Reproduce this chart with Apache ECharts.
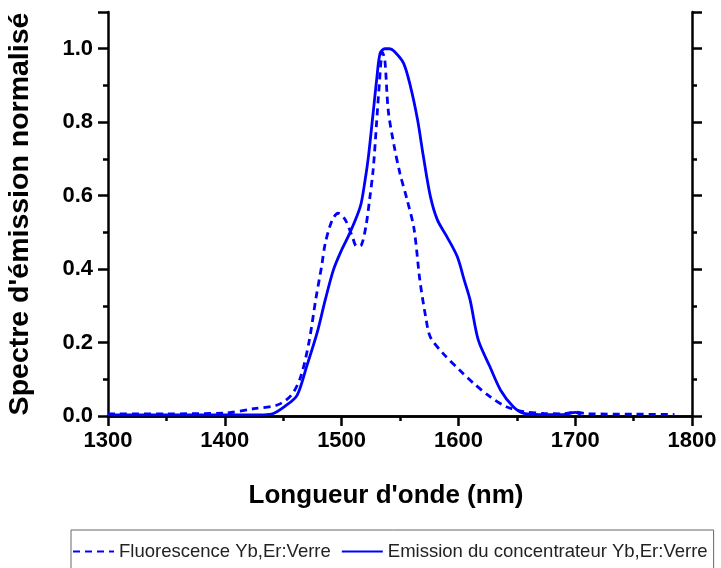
<!DOCTYPE html>
<html>
<head>
<meta charset="utf-8">
<script src="https://cdn.jsdelivr.net/npm/echarts@6/dist/echarts.min.js"></script>
<style>
html,body{margin:0;padding:0;background:#fff;}
#chart{width:721px;height:568px;}
</style>
</head>
<body>
<div id="chart"></div>
<script>
// Fluorescence Yb,Er:Verre (dashed)
const fluoWavelength = [1300,1350,1400,1425,1445,1457,1465,1472,1478,1483,1486,1492,1497,1503,1509,1513,1517,1521,1524,1527,1530,1532,1535,1537,1540,1545,1550,1556,1562,1567,1572,1576,1587,1601,1613,1627,1641,1656,1673,1690,1700,1710,1750,1785];
const fluoValues     = [0.006,0.006,0.008,0.02,0.03,0.057,0.107,0.2,0.32,0.41,0.47,0.534,0.552,0.535,0.49,0.462,0.466,0.52,0.59,0.67,0.8,0.89,0.99,0.97,0.83,0.735,0.66,0.59,0.51,0.37,0.27,0.215,0.17,0.125,0.089,0.053,0.025,0.012,0.007,0.006,0.011,0.006,0.005,0.004];
// Emission du concentrateur Yb,Er:Verre (solid)
const emisWavelength = [1300,1400,1430,1440,1453,1462,1470,1479,1486,1493,1500,1507,1516,1520,1523,1527,1530,1533,1537,1541,1545,1553,1559,1565,1570,1576,1582,1590,1599,1605,1610,1617,1627,1636,1647,1656,1670,1690,1700,1705];
const emisValues     = [0.003,0.003,0.003,0.005,0.03,0.057,0.134,0.226,0.316,0.398,0.452,0.498,0.57,0.64,0.707,0.825,0.915,0.988,1.0,1.0,0.993,0.961,0.897,0.807,0.707,0.598,0.534,0.489,0.434,0.37,0.316,0.207,0.134,0.071,0.025,0.007,0.004,0.004,0.01,0.004];
const seriesNames = ['Fluorescence Yb,Er:Verre','Emission du concentrateur Yb,Er:Verre'];
const xTitle = "Longueur d'onde (nm)";
const yTitle = "Spectre d'émission normalisé";

const fluoData = fluoWavelength.map((x,i)=>[x,fluoValues[i]]);
const emisData = emisWavelength.map((x,i)=>[x,emisValues[i]]);

const FONT = "'Liberation Sans', Arial, sans-serif";
const axisLineStyle = {color:'#000', width:2.5};

const chart = echarts.init(document.getElementById('chart'), null, {renderer:'canvas'});
chart.setOption({
  animation:false,
  backgroundColor:'#fff',
  grid:{left:108,right:29,top:12,bottom:152,containLabel:false,outerBoundsMode:'none'},
  legend:{
    left:71, top:530,
    itemWidth:41, itemHeight:14, itemGap:10,
    padding:[12,6,20,1],
    borderColor:'#666', borderWidth:1,
    itemStyle:{opacity:0},
    textStyle:{fontFamily:FONT,fontSize:18.5,color:'#222'},
    data:seriesNames
  },
  xAxis:[{
    type:'value', min:1300, max:1800, interval:100, position:'bottom',
    name:xTitle, nameLocation:'middle', nameGap:67,
    nameTextStyle:{fontFamily:FONT,fontSize:26,fontWeight:'bold',color:'#000',padding:[0,28,0,0]},
    axisLine:{lineStyle:axisLineStyle},
    axisTick:{show:true,inside:false,length:10,lineStyle:{color:'#000',width:2.5}},
    minorTick:{show:true,splitNumber:2,length:5,lineStyle:{color:'#000',width:2.5}},
    axisLabel:{fontFamily:FONT,fontSize:22,fontWeight:'bold',color:'#000',margin:14,formatter:v=>String(v)},
    splitLine:{show:false}
  },{
    type:'value', min:1300, max:1800, interval:100, position:'top',
    axisLine:{lineStyle:axisLineStyle},
    axisTick:{show:true,inside:true,length:10,lineStyle:{color:'#000',width:2.5}},
    minorTick:{show:true,splitNumber:2,length:4,lineStyle:{color:'#000',width:2.5}},
    axisLabel:{show:false},
    splitLine:{show:false}
  }],
  yAxis:[{
    type:'value', min:0, max:1.1, interval:0.2, position:'left',
    name:yTitle, nameLocation:'middle', nameGap:73, nameRotate:90,
    nameTextStyle:{fontFamily:FONT,fontSize:28.5,fontWeight:'bold',color:'#000'},
    axisLine:{lineStyle:axisLineStyle},
    axisTick:{show:true,inside:false,length:10,lineStyle:{color:'#000',width:2.5}},
    minorTick:{show:true,splitNumber:2,length:5,lineStyle:{color:'#000',width:2.5}},
    axisLabel:{fontFamily:FONT,fontSize:22,fontWeight:'bold',color:'#000',margin:15,
      showMaxLabel:false, formatter:v=>v.toFixed(1)},
    splitLine:{show:false}
  },{
    type:'value', min:0, max:1.1, interval:0.2, position:'right',
    axisLine:{lineStyle:axisLineStyle},
    axisTick:{show:true,inside:false,length:10,lineStyle:{color:'#000',width:2.5}},
    minorTick:{show:true,splitNumber:2,length:5,lineStyle:{color:'#000',width:2.5}},
    axisLabel:{show:false},
    splitLine:{show:false}
  }],
  series:[{
    name:seriesNames[0], type:'line', data:fluoData, xAxisIndex:0, yAxisIndex:0,
    symbol:'none', smooth:0.3,
    lineStyle:{color:'#0000ff',width:2.8,type:[7,5]},
    itemStyle:{color:'#0000ff'}
  },{
    name:seriesNames[1], type:'line', data:emisData, xAxisIndex:0, yAxisIndex:0,
    symbol:'none', smooth:0.3,
    lineStyle:{color:'#0000ff',width:2.8,type:'solid'},
    itemStyle:{color:'#0000ff'}
  }]
});
</script>
</body>
</html>
